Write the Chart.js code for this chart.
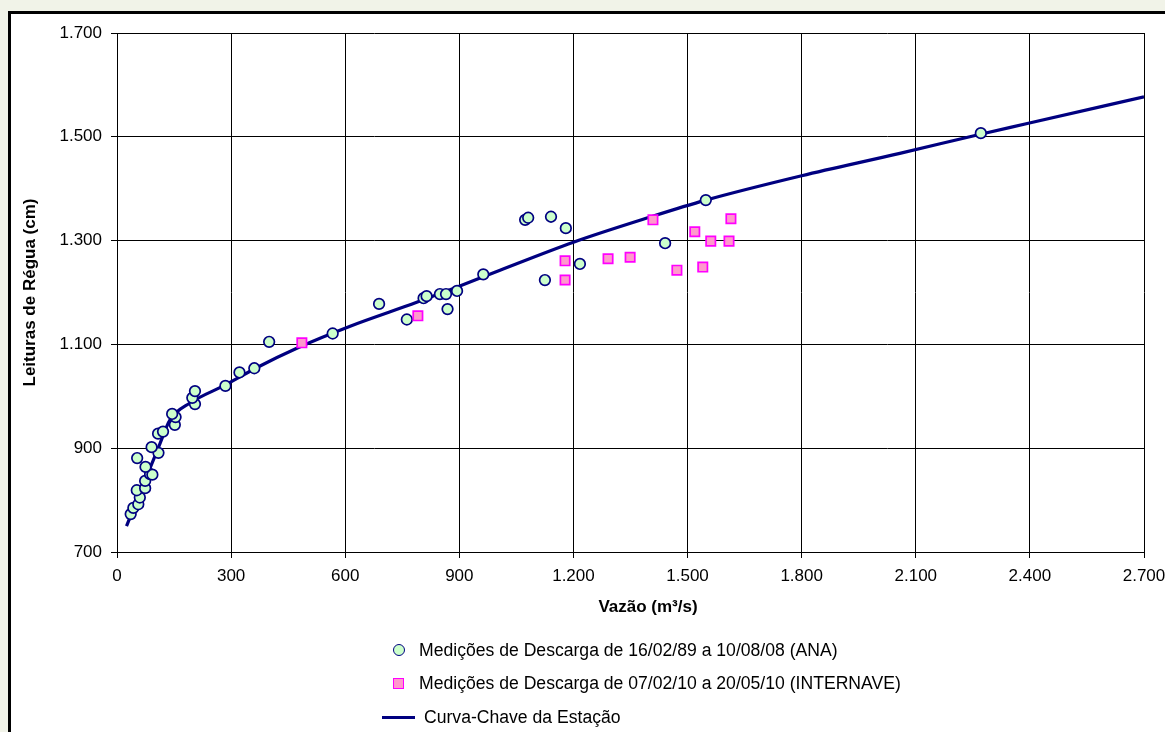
<!DOCTYPE html>
<html>
<head>
<meta charset="utf-8">
<script src="https://cdn.jsdelivr.net/npm/chart.js@4.4.0/dist/chart.umd.min.js"></script>
<style>
body { margin: 0; }
#wrap { position: relative; width: 1165px; height: 732px; overflow: hidden; }
.txt { position: absolute; font: 17.6px Arial, "Liberation Sans", sans-serif; color: #000; white-space: nowrap; line-height: 20px; }
.mk { position: absolute; box-sizing: border-box; }
#tituloX { position: absolute; left: 548px; top: 597px; width: 200px; text-align: center; font: bold 17px Arial, "Liberation Sans", sans-serif; line-height: 20px; color: #000; }
</style>
</head>
<body>
<div id="wrap">
  <canvas id="curva" width="1165" height="732"></canvas>
  <div id="tituloX">Vazão (m³/s)</div>
  <div class="mk" style="left:392.5px;top:644px;width:12px;height:12px;border:1.6px solid #000080;border-radius:50%;background:#ccffcc"></div>
  <div class="txt" style="left:419px;top:640px">Medições de Descarga de 16/02/89 a 10/08/08 (ANA)</div>
  <div class="mk" style="left:392.5px;top:677.5px;width:11px;height:11px;border:1.6px solid #ff00ff;background:#ff99cc"></div>
  <div class="txt" style="left:419px;top:673px">Medições de Descarga de 07/02/10 a 20/05/10 (INTERNAVE)</div>
  <div class="mk" style="left:382px;top:715.5px;width:33px;height:3px;background:#000080"></div>
  <div class="txt" style="left:424px;top:707px">Curva-Chave da Estação</div>
</div>
<script>
// medições ANA (vazão m3/s, leitura cm)
const anaQ = [36, 43, 56, 60, 52, 74, 74, 87, 93, 75, 53, 109, 91, 108, 121, 152, 154, 145,
  205, 198, 205, 285, 322, 361, 400, 567, 689, 762, 806, 814, 849, 865, 869, 894, 963,
  1073, 1081, 1141, 1180, 1125, 1217, 1441, 1548, 2271];
const anaH = [773, 785, 792, 805, 819, 823, 837, 850, 849, 864, 881, 891, 902, 928, 932, 945, 960, 966,
  985, 997, 1010, 1020, 1046, 1054, 1105, 1121, 1178, 1148, 1189, 1193, 1197, 1197, 1168, 1203, 1235,
  1340, 1344, 1346, 1324, 1224, 1255, 1295, 1378, 1507];

// medições INTERNAVE
const intQ = [486, 791, 1178, 1178, 1291, 1349, 1409, 1472, 1519, 1540, 1561, 1609, 1614];
const intH = [1103, 1155, 1261, 1224, 1265, 1268, 1340, 1243, 1317, 1249, 1299, 1299, 1342];

// curva-chave
const curvaQ = [25, 47, 69, 96, 113, 139, 192, 288, 367, 477, 613, 788, 893, 1007, 1200, 1400, 1548, 1800, 2058, 2270, 2396, 2700];
const curvaH = [750, 790, 830, 878, 909, 954, 987, 1023, 1055, 1094, 1135, 1181, 1210, 1243, 1297, 1345, 1378, 1425, 1468, 1505, 1526, 1577];

const toPts = (xs, ys) => xs.map((x, i) => ({ x: x, y: ys[i] }));
const fmt = v => String(v).replace(/\B(?=(\d{3})+(?!\d))/g, '.');

const fonte = { family: 'Arial, "Liberation Sans", sans-serif', size: 17 };
const fonteB = { family: 'Arial, "Liberation Sans", sans-serif', size: 17, weight: 'bold' };

const moldura = {
  id: 'moldura',
  beforeDraw(chart) {
    const c = chart.ctx;
    c.save();
    c.fillStyle = '#f1f3e8';
    c.fillRect(0, 0, chart.width, chart.height);
    c.fillStyle = '#fff';
    c.fillRect(9.5, 12.5, chart.width, chart.height);
    c.strokeStyle = '#000';
    c.lineWidth = 3;
    c.strokeRect(9.5, 12.5, chart.width + 20, chart.height + 20);
    c.restore();
  }
};

const ctx = document.getElementById('curva').getContext('2d');
new Chart(ctx, {
  type: 'scatter',
  data: {
    datasets: [{
      label: 'Medições de Descarga de 16/02/89 a 10/08/08 (ANA)',
      data: toPts(anaQ, anaH),
      pointRadius: 5.3,
      pointBorderWidth: 1.7,
      borderColor: '#000080',
      backgroundColor: '#ccffcc',
      order: 1
    }, {
      label: 'Medições de Descarga de 07/02/10 a 20/05/10 (INTERNAVE)',
      data: toPts(intQ, intH),
      pointStyle: 'rect',
      pointRadius: 6.6,
      pointBorderWidth: 1.7,
      borderColor: '#ff00ff',
      backgroundColor: '#ff99cc',
      order: 0
    }, {
      label: 'Curva-Chave da Estação',
      data: toPts(curvaQ, curvaH),
      showLine: true,
      pointRadius: 0,
      borderColor: '#000080',
      borderWidth: 3.2,
      cubicInterpolationMode: 'monotone',
      order: 2
    }]
  },
  options: {
    responsive: false,
    animation: false,
    layout: { padding: { left: 16, right: 21, top: 33, bottom: 111 } },
    plugins: {
      legend: { display: false },
      tooltip: { enabled: false }
    },
    scales: {
      x: {
        type: 'linear',
        min: 0,
        max: 2700,
        ticks: { stepSize: 300, padding: 8, color: '#000', font: fonte, callback: v => fmt(v), maxRotation: 0 },
        grid: { color: '#000', lineWidth: 1, tickLength: 6 },
        border: { color: '#000', width: 1 },
        afterFit(s) { s.height = 69; s.paddingLeft = 0; s.paddingRight = 0; }
      },
      y: {
        min: 700,
        max: 1700,
        ticks: { stepSize: 200, padding: 9, color: '#000', font: fonte, callback: v => fmt(v) },
        grid: { color: '#000', lineWidth: 1, tickLength: 6 },
        border: { color: '#000', width: 1 },
        title: { display: true, text: 'Leituras de Régua (cm)', color: '#000', font: fonteB },
        afterFit(s) { s.width = 101; s.paddingTop = 0; s.paddingBottom = 0; }
      }
    }
  },
  plugins: [moldura]
});
</script>
</body>
</html>
